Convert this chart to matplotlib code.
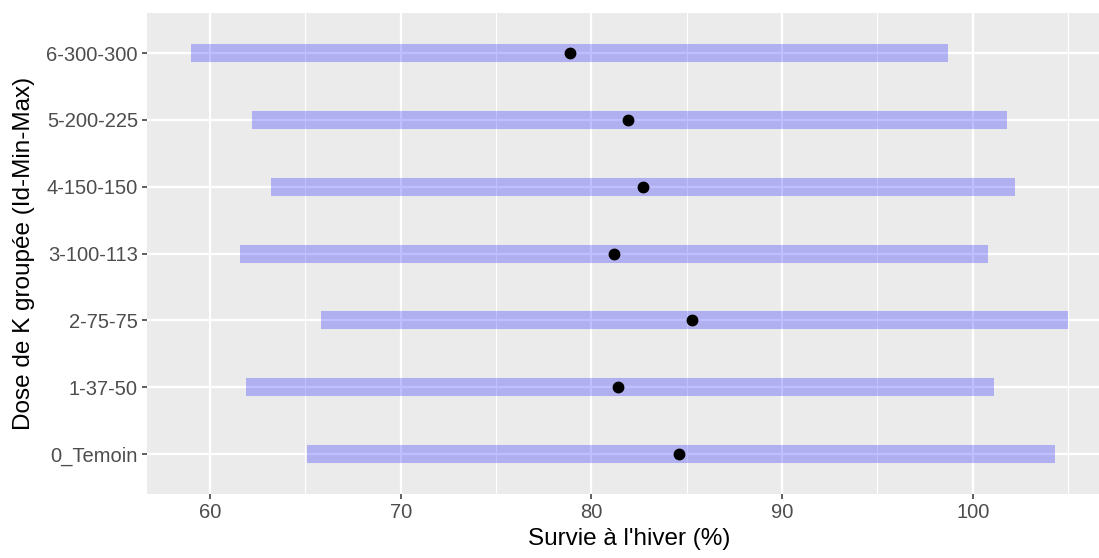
import matplotlib
matplotlib.use('Agg')
import matplotlib.pyplot as plt
from matplotlib.ticker import MultipleLocator

plt.rcParams['font.family'] = ['Liberation Sans', 'DejaVu Sans']

groups = ['0_Temoin', '1-37-50', '2-75-75', '3-100-113', '4-150-150', '5-200-225', '6-300-300']
survie_min = [65.1, 61.9, 65.8, 61.6, 63.2, 62.2, 59.0]
survie_max = [104.3, 101.1, 105.0, 100.8, 102.2, 101.8, 98.7]
survie_moy = [84.6, 81.4, 85.3, 81.2, 82.7, 81.9, 78.9]

W, H = 1099, 558
fig = plt.figure(figsize=(W / 100, H / 100), dpi=100)
# panel runs past the right edge of the figure
ax = fig.add_axes([147 / W, 1 - 494 / H, 965 / W, 481 / H])
ax.set_facecolor('#EBEBEB')
for s in ax.spines.values():
    s.set_visible(False)

ypos = list(range(len(groups)))
ax.hlines(ypos, survie_min, survie_max, colors='blue', alpha=0.25, linewidth=13, zorder=2)
ax.plot(survie_moy, ypos, 'o', color='black', markersize=7.5, zorder=3)

ax.set_xlim(56.7, 107.3)
ax.set_ylim(-0.6, len(groups) - 0.4)
ax.xaxis.set_major_locator(MultipleLocator(10))
ax.xaxis.set_minor_locator(MultipleLocator(5))
ax.set_yticks(ypos)
ax.set_yticklabels(groups)

ax.grid(True, which='major', color='white', linewidth=1.6, zorder=0)
ax.grid(True, which='minor', axis='x', color='white', linewidth=0.8, zorder=0)
ax.set_axisbelow(True)

ax.tick_params(axis='both', which='major', length=3.5, width=1.1, color='#333333',
               labelcolor='#4D4D4D', labelsize=14.5, pad=3)
ax.tick_params(axis='x', which='minor', length=0)

ax.set_xlabel("Survie à l'hiver (%)", fontsize=17.5, color='black', labelpad=4)
ax.set_ylabel('Dose de K groupée (Id-Min-Max)', fontsize=17.5, color='black', labelpad=8)

fig.savefig('out.png', dpi=100)
